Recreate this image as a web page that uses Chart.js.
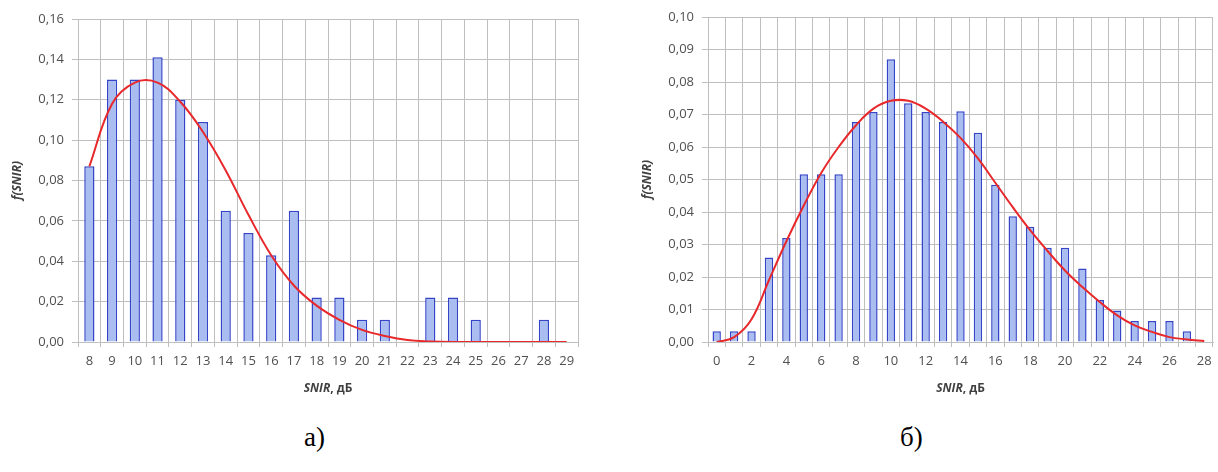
<!DOCTYPE html>
<html>
<head>
<meta charset="utf-8">
<script src="https://cdn.jsdelivr.net/npm/chart.js@4/dist/chart.umd.min.js"></script>
<style>
  body { margin: 0; background: #fff; width: 1218px; height: 472px; overflow: hidden; position: relative; }
  .box { position: absolute; top: 0; height: 400px; }
  .cap { position: absolute; top: 422px; font-family: "Liberation Serif", serif; font-size: 27px; color: #000; }
</style>
</head>
<body>
<div class="box" style="left:0; width:590px;"><canvas id="chartA"></canvas></div>
<div class="box" style="left:630px; width:588px;"><canvas id="chartB"></canvas></div>
<div class="cap" style="left:304px;">а)</div>
<div class="cap" style="left:900px;">б)</div>
<script>
// а) : SNIR 8..29 дБ
const labelsA = ['8','9','10','11','12','13','14','15','16','17','18','19','20','21','22','23','24','25','26','27','28','29'];
const barsA = [0.087, 0.130, 0.130, 0.141, 0.120, 0.109, 0.065, 0.054, 0.043, 0.065, 0.022, 0.022, 0.011, 0.011, 0, 0.022, 0.022, 0.011, 0, 0, 0.011, null];
const curveA = [0.087, 0.118, 0.1285, 0.1285, 0.119, 0.104, 0.085, 0.063, 0.043, 0.028, 0.018, 0.011, 0.006, 0.003, 0.001, 0.0003, 0, 0, 0, 0, 0, 0];

// б) : SNIR 0..28 дБ
const labelsB = ['0','1','2','3','4','5','6','7','8','9','10','11','12','13','14','15','16','17','18','19','20','21','22','23','24','25','26','27','28'];
const barsB = [0.0033, 0.0033, 0.0033, 0.026, 0.032, 0.0516, 0.0516, 0.0516, 0.0677, 0.0708, 0.087, 0.0735, 0.0708, 0.0677, 0.071, 0.0644, 0.0484, 0.0387, 0.0355, 0.029, 0.029, 0.0226, 0.0129, 0.0097, 0.0065, 0.0065, 0.0065, 0.0033, null];
const curveB = [0, 0.0015, 0.007, 0.019, 0.031, 0.042, 0.052, 0.060, 0.0667, 0.0718, 0.0742, 0.0742, 0.0718, 0.0678, 0.0628, 0.0565, 0.049, 0.0415, 0.0344, 0.028, 0.022, 0.0169, 0.0123, 0.0082, 0.0051, 0.0031, 0.0015, 0.0008, 0.0003];

const gridColor = '#bfbfbf';
const tickColor = '#505050';

// x axis title with mixed styles: "SNIR" italic, ", дБ" upright
const xTitlePlugin = {
    id: 'xTitle',
    afterDraw(chart) {
        const ctx = chart.ctx;
        const area = chart.chartArea;
        const part1 = 'SNIR';
        const part2 = ', дБ';
        ctx.save();
        ctx.fillStyle = '#404040';
        ctx.textBaseline = 'middle';
        ctx.font = 'italic bold 12px "Open Sans"';
        const w1 = ctx.measureText(part1).width;
        ctx.font = 'bold 12px "Open Sans"';
        const w2 = ctx.measureText(part2).width;
        const x0 = (area.left + area.right) / 2 - (w1 + w2) / 2;
        const y = area.bottom + 47;
        ctx.font = 'italic bold 12px "Open Sans"';
        ctx.fillText(part1, x0, y);
        ctx.font = 'bold 12px "Open Sans"';
        ctx.fillText(part2, x0 + w1, y);
        ctx.restore();
    }
};

function buildChart(id, labels, bars, curve, yMax, yStep, barPct, xSkip, padTop, padRight) {
    const ctx = document.getElementById(id).getContext('2d');
    return new Chart(ctx, {
        data: {
            labels: labels,
            datasets: [{
                type: 'line',
                data: curve,
                borderColor: '#e8282b',
                borderWidth: 2,
                pointRadius: 0,
                tension: 0.4,
                fill: false,
                order: 0
            }, {
                type: 'bar',
                data: bars,
                backgroundColor: '#a9bdf0',
                borderColor: '#3545c8',
                borderWidth: 1.5,
                barPercentage: 1,
                categoryPercentage: barPct,
                order: 1
            }]
        },
        options: {
            responsive: true,
            maintainAspectRatio: false,
            animation: false,
            layout: { padding: { top: padTop, right: padRight, left: 0, bottom: 0 } },
            plugins: { legend: { display: false }, tooltip: { enabled: false } },
            scales: {
                x: {
                    offset: true,
                    grid: { color: gridColor, lineWidth: 1, tickLength: 5, offset: true },
                    border: { color: gridColor },
                    ticks: {
                        color: tickColor, font: { family: 'Open Sans', size: 13 }, padding: 6,
                        maxRotation: 0, autoSkip: false,
                        callback: function(v, i) { return i % xSkip === 0 ? labels[i] : ''; }
                    },
                    afterFit: function(scale) { scale.height = 58; }
                },
                y: {
                    min: 0, max: yMax,
                    grid: { color: gridColor, lineWidth: 1, tickLength: 6 },
                    border: { color: gridColor },
                    ticks: {
                        stepSize: yStep, color: tickColor, padding: 8,
                        font: { family: 'Open Sans', size: 13 },
                        callback: function(v) { return v.toFixed(2).replace('.', ','); }
                    },
                    title: {
                        display: true, text: 'f(SNIR)', color: '#404040',
                        font: { family: 'Open Sans', size: 12, weight: 'bold', style: 'italic' },
                        padding: { top: 10, bottom: 0 }
                    },
                    afterFit: function(scale) { scale.width = 78; }
                }
            }
        },
        plugins: [xTitlePlugin]
    });
}

buildChart('chartA', labelsA, barsA, curveA, 0.16, 0.02, 0.45, 1, 19, 12);
buildChart('chartB', labelsB, barsB, curveB, 0.10, 0.01, 0.48, 2, 17, 5);
</script>
</body>
</html>
